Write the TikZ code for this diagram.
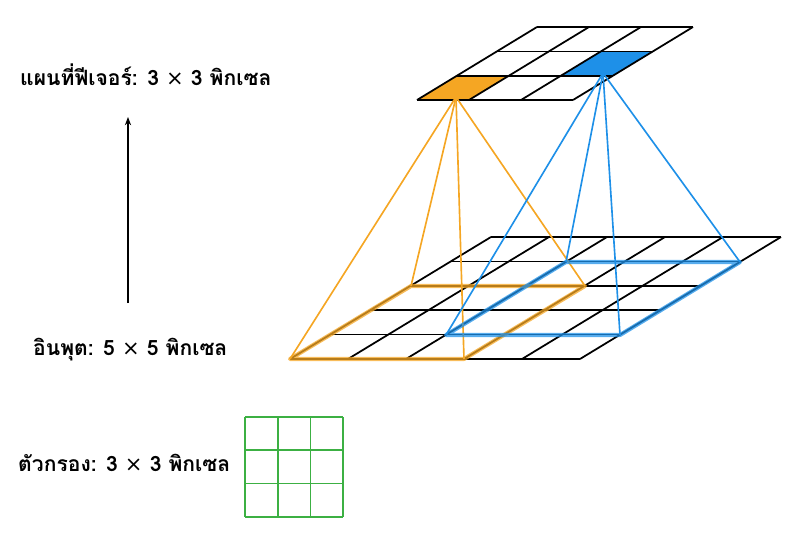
\documentclass[tikz,border=0pt]{standalone}
\usepackage{fontspec}
\newfontfamily\thaifont[Script=Thai]{Loma}
\newfontfamily\symfont{DejaVu Sans}
\usetikzlibrary{arrows.meta,calc}
\definecolor{orangeA}{HTML}{F5A623}
\definecolor{blueA}{HTML}{1E90E8}
\definecolor{greenA}{HTML}{3CB043}
\tikzset{
    label/.style={anchor=west,inner sep=0pt,font=\thaifont\bfseries\fontsize{18}{20}\selectfont},
    grille/.style={line width=1.5pt},
  }
\newcommand{\mult}{{\symfont\mdseries ×}}
\begin{document}
\begin{tikzpicture}[x=0.03cm,y=-0.03cm]
				  \useasboundingbox (0,0) rectangle (808,538);
				  %textes
				  \node[label] (carte) at (20,75) {แผนที่ฟีเจอร์: 3 \mult{} 3 พิกเซล};
				  \node[label] (entree) at (33,350) {อินพุต: 5 \mult{} 5 พิกเซล};
				  \node[label] (filtre) at (18,463) {ตัวกรอง: 3 \mult{} 3 พิกเซล};
				  \coordinate (bas) at (128,303);
				  \coordinate (haut) at (128,117);
				  \draw[-{Stealth[length=7pt]},line width=1.2pt] (bas) -- (haut);
				  
				  %grille d'entree 5x5 : origine (290,359), case 58 x 24.4, decalage 40.2
				  \coordinate (E) at (290,359);
				  \foreach \i in {0,...,5}{
				    \draw[grille] ($(E)+(\i*40.2,-\i*24.4)$) -- ++(290,0);
				    \draw[grille] ($(E)+(\i*58,0)$) -- ++(201,-122);
				  }
				  
				  %carte 3x3 : origine (417,100), case 52 x 24.3, decalage 40
				  \coordinate (S) at (417,100);
				  \fill[orangeA] (S) -- ++(52,0) -- ++(40,-24.3) -- ++(-52,0) -- cycle;
				  \fill[blueA] ($(S)+(144,-24.3)$) -- ++(52,0) -- ++(40,-24.3) -- ++(-52,0) -- cycle;
				  \foreach \i in {0,...,3}{
				    \draw[grille] ($(S)+(\i*40,-\i*24.3)$) -- ++(156,0);
				    \draw[grille] ($(S)+(\i*52,0)$) -- ++(120,-73);
				  }
				  
				  %fenetre orange
				  \coordinate (o1) at (290,359);
				  \coordinate (o2) at (464,359);
				  \coordinate (o3) at (585,286);
				  \coordinate (o4) at (411,286);
				  \coordinate (po) at (456,97);
				  \draw[orangeA,line width=3.5pt,opacity=0.75,line join=round] (o1) -- (o2) -- (o3) -- (o4) -- cycle;
				  \foreach \c in {o1,o2,o3,o4}
				    \draw[orangeA,line width=1.4pt] (po) -- (\c);
				  
				  %fenetre bleue
				  \coordinate (b1) at (446,335);
				  \coordinate (b2) at (620,335);
				  \coordinate (b3) at (740,262);
				  \coordinate (b4) at (566,262);
				  \coordinate (pb) at (603,73);
				  \draw[blueA,line width=3.5pt,opacity=0.75,line join=round] (b1) -- (b2) -- (b3) -- (b4) -- cycle;
				  \foreach \c in {b1,b2,b3,b4}
				    \draw[blueA,line width=1.4pt] (pb) -- (\c);
				  
				  %filtre 3x3
				  \foreach \i in {0,...,3}{
				    \draw[greenA,line width=1.5pt] (245,417+\i*33.3) -- ++(98,0);
				    \draw[greenA,line width=1.5pt] (245+\i*32.7,417) -- ++(0,100);
				  }
\end{tikzpicture}
\end{document}
